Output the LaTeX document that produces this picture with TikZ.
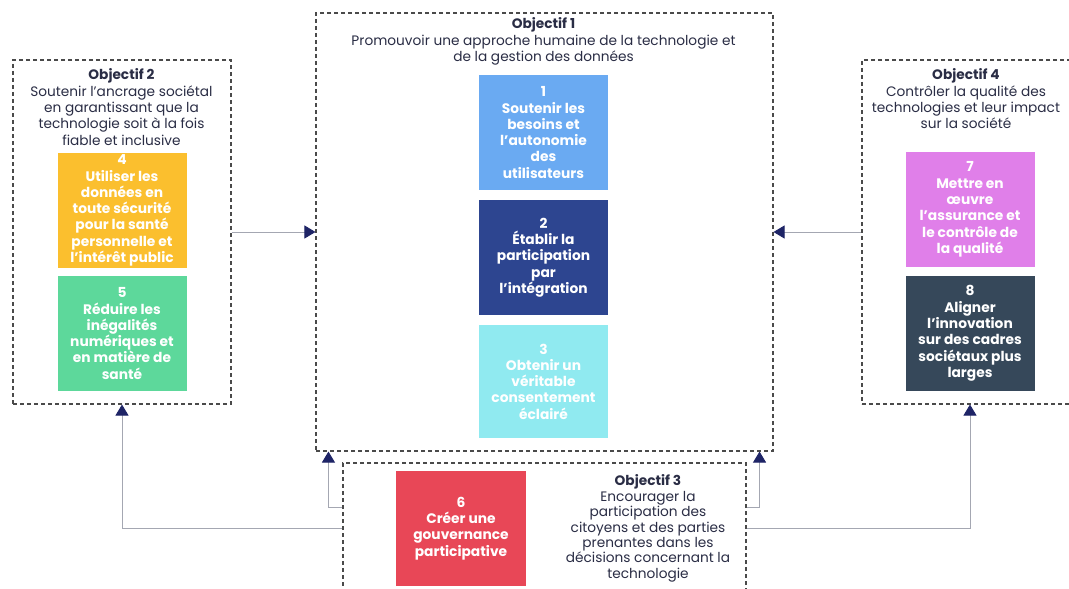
\documentclass[tikz,border=0pt]{standalone}
\usepackage{fontspec}
\setmainfont{Poppins}
\usetikzlibrary{arrows.meta}
\definecolor{cBlueL}{HTML}{6AAAF2}
\definecolor{cBlueD}{HTML}{2D4590}
\definecolor{cCyan}{HTML}{90EAF0}
\definecolor{cYellow}{HTML}{FBBF2E}
\definecolor{cGreen}{HTML}{5DD89B}
\definecolor{cRed}{HTML}{E84757}
\definecolor{cOrchid}{HTML}{E07FE9}
\definecolor{cSlate}{HTML}{36485A}
\definecolor{cNavy}{HTML}{1E2466}
\definecolor{cText}{HTML}{2A2D45}
\definecolor{cDash}{HTML}{4A4A4A}
\definecolor{cLine}{HTML}{A4A7B2}
\begin{document}
\begin{tikzpicture}[x=1pt,y=-1pt,
  container/.style={draw=cDash, line width=1.1pt, dash pattern=on 4pt off 3pt, rectangle, inner sep=0pt},
  card/.style={rectangle, inner sep=0pt, minimum width=129pt, minimum height=115pt, text=white, align=center,
    font=\bfseries\fontsize{13.8}{16.3}\selectfont},
  obtext/.style={align=center, text=cText, font=\fontsize{13.7}{16.3}\selectfont},
  conn/.style={draw=cLine, line width=0.9pt, -{Triangle[width=13pt,length=11pt,color=cNavy]}}
]
\useasboundingbox (0,0) rectangle (1069,589);
\clip (0,0) rectangle (1069,589);
\fill[white] (0,0) rectangle (1069,589);

% containers
\node[container, minimum width=457pt, minimum height=438pt] (obj1) at (544.5,232) {};
\node[container, minimum width=218pt, minimum height=344pt] (obj2) at (122,232) {};
\node[container, minimum width=216pt, minimum height=344pt] (obj4) at (970,232) {};
\node[container, minimum width=403pt, minimum height=160pt] (obj3) at (544.5,543) {};

% titles
\node[obtext] (t1) at (543.5,41.5) {\textbf{Objectif 1}\\Promouvoir une approche humaine de la technologie et\\de la gestion des données};
\node[obtext] (t2) at (121.5,107) {\textbf{Objectif 2}\\Soutenir l'ancrage sociétal\\en garantissant que la\\technologie soit à la fois\\fiable et inclusive};
\node[obtext] (t4) at (966,99) {\textbf{Objectif 4}\\Contrôler la qualité des\\technologies et leur impact\\sur la société};
\node[obtext, font=\fontsize{13.7}{15.4}\selectfont] (t3) at (648,528.5) {\textbf{Objectif 3}\\Encourager la\\participation des\\citoyens et des parties\\prenantes dans les\\décisions concernant la\\technologie};

% cards
\node[card, fill=cBlueL] (c1) at (543.5,132.5) {1\\Soutenir les\\besoins et\\l'autonomie\\des\\utilisateurs};
\node[card, fill=cBlueD] (c2) at (543.5,257.5) {2\\Établir la\\participation\\par\\l'intégration};
\node[card, fill=cCyan, minimum height=113pt] (c3) at (543.5,381.5) {3\\Obtenir un\\véritable\\consentement\\éclairé};
\node[card, fill=cYellow] (c4) at (122,210.5) {4\\Utiliser les\\données en\\toute sécurité\\pour la santé\\personnelle et\\l'intérêt public};
\node[card, fill=cGreen] (c5) at (122,333.5) {5\\Réduire les\\inégalités\\numériques et\\en matière de\\santé};
\node[card, fill=cOrchid] (c7) at (970,209.5) {7\\Mettre en\\œuvre\\l'assurance et\\le contrôle de\\la qualité};
\node[card, fill=cSlate] (c8) at (970,333.5) {8\\Aligner\\l'innovation\\sur des cadres\\sociétaux plus\\larges};
\node[card, fill=cRed, minimum width=130pt] (c6) at (461,528.5) {6\\Créer une\\gouvernance\\participative};

% connectors
\draw[conn] (obj2.east) -- (obj1.west);
\draw[conn] (obj4.west) -- (obj1.east);
\draw[conn] ([yshift=-66pt]obj3.north west) -| (obj2.south);
\draw[conn] ([yshift=-45pt]obj3.north west) -| ([xshift=13pt]obj1.south west);
\draw[conn] ([yshift=-45pt]obj3.north east) -| ([xshift=-14pt]obj1.south east);
\draw[conn] ([yshift=-66pt]obj3.north east) -| (obj4.south);
\end{tikzpicture}
\end{document}
